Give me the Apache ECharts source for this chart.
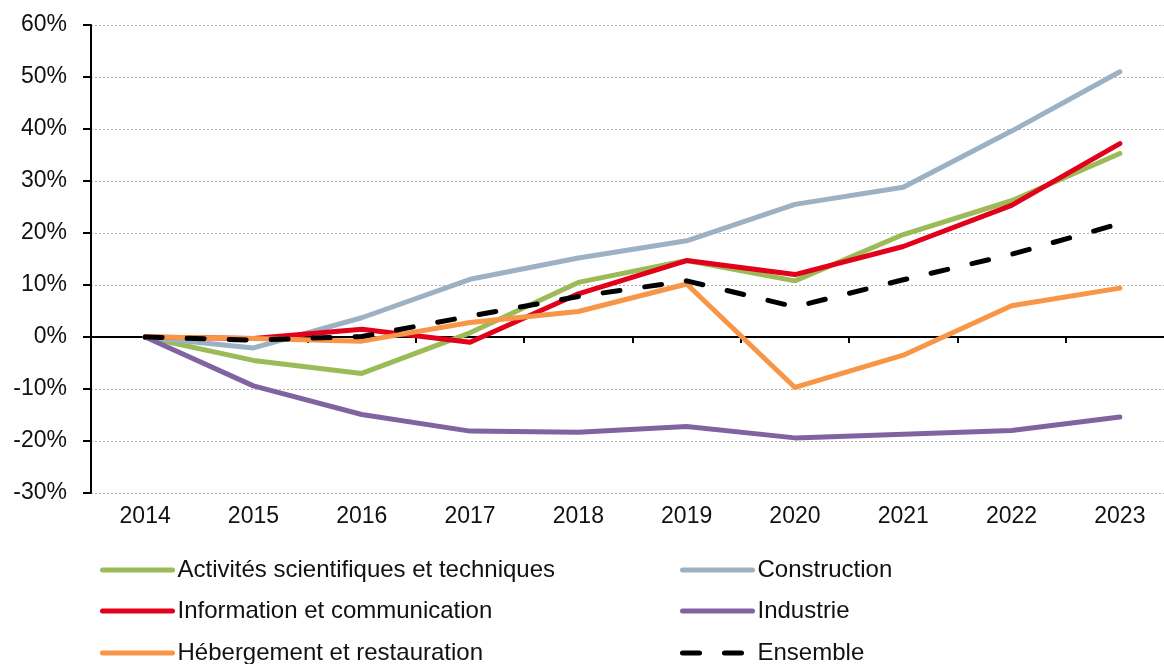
<!DOCTYPE html>
<html>
<head>
<meta charset="utf-8">
<script src="https://cdn.jsdelivr.net/npm/echarts@6/dist/echarts.min.js"></script>
<style>
  html, body { margin: 0; padding: 0; background: #fff; }
  #chart { width: 1164px; height: 664px; }
</style>
</head>
<body>
<div id="chart"></div>
<script>
// années
var years = ['2014', '2015', '2016', '2017', '2018', '2019', '2020', '2021', '2022', '2023']

// évolution depuis 2014, en %
var activites = [0, -4.5, -7.0, 0.8, 10.5, 14.7, 10.8, 19.7, 26.2, 35.3]
var construction = [0, -2.1, 3.7, 11.1, 15.2, 18.5, 25.5, 28.8, 39.6, 51.0]
var information = [0, -0.3, 1.5, -1.0, 8.3, 14.7, 12.0, 17.4, 25.3, 37.2]
var industrie = [0, -9.4, -14.9, -18.1, -18.3, -17.2, -19.4, -18.7, -18.0, -15.4]
var hebergement = [0, -0.3, -0.8, 2.8, 4.9, 10.2, -9.7, -3.5, 6.0, 9.4]
var ensemble = [0, -0.6, 0.1, 4.0, 7.8, 10.8, 5.8, 11.0, 15.9, 21.8]

var yTicks = { min: -30, max: 60, step: 10 }

var chart = echarts.init(document.getElementById('chart'), null, { renderer: 'canvas' })

var font = 'Liberation Sans, Arial, Helvetica, sans-serif'

function line(name, data, color, dashed) {
  return {
    name: name,
    type: 'line',
    data: data,
    xAxisIndex: 0,
    symbol: 'none',
    animation: false,
    lineStyle: {
      color: color,
      width: 5,
      cap: 'round',
      join: 'round',
      type: dashed ? [17, 25] : 'solid'
    },
    itemStyle: { color: color }
  }
}

// une légende par entrée, sur 2 colonnes
function legendItem(name, left, top) {
  return {
    left: left,
    top: top,
    padding: 0,
    itemWidth: 70,
    itemHeight: 2,
    lineStyle: { width: 5, cap: 'round' },
    itemStyle: { opacity: 0 },
    textStyle: { fontFamily: font, fontSize: 24, color: '#111', lineHeight: 26 },
    selectedMode: false,
    data: [name]
  }
}

chart.setOption({
  backgroundColor: '#fff',
  animation: false,
  grid: {
    left: 91,
    right: -10,
    top: 25,
    bottom: 171,
    outerBoundsMode: 'none'
  },
  legend: [
    legendItem('Activités scientifiques et techniques', 100, 557),
    legendItem('Information et communication', 100, 598),
    legendItem('Hébergement et restauration', 100, 640),
    legendItem('Construction', 680, 557),
    legendItem('Industrie', 680, 598),
    legendItem('Ensemble', 680, 640)
  ],
  xAxis: [
    {
      type: 'category',
      data: years,
      position: 'bottom',
      axisLine: { onZero: true, lineStyle: { color: '#000', width: 2 } },
      axisTick: { show: true, length: 6, lineStyle: { color: '#000', width: 2 } },
      axisLabel: { show: false },
      splitLine: { show: false }
    },
    {
      type: 'category',
      data: years,
      position: 'bottom',
      axisLine: { show: false, onZero: false },
      axisTick: { show: false },
      axisLabel: { margin: 12, fontFamily: font, fontSize: 23, color: '#111' },
      splitLine: { show: false }
    }
  ],
  yAxis: {
    type: 'value',
    min: yTicks.min,
    max: yTicks.max,
    interval: yTicks.step,
    axisLine: { show: true, lineStyle: { color: '#000', width: 2 } },
    axisTick: { show: true, length: 8, lineStyle: { color: '#000', width: 2 } },
    axisLabel: {
      formatter: '{value}%',
      margin: 24,
      fontFamily: font,
      fontSize: 23,
      color: '#111'
    },
    splitLine: { show: true, lineStyle: { color: '#b4b4b4', width: 1, type: [2, 2] } }
  },
  series: [
    line('Activités scientifiques et techniques', activites, '#9BBB59'),
    line('Construction', construction, '#9CB1C3'),
    line('Information et communication', information, '#E2001A'),
    line('Industrie', industrie, '#8064A2'),
    line('Hébergement et restauration', hebergement, '#F79646'),
    line('Ensemble', ensemble, '#000', true)
  ]
})
</script>
</body>
</html>
